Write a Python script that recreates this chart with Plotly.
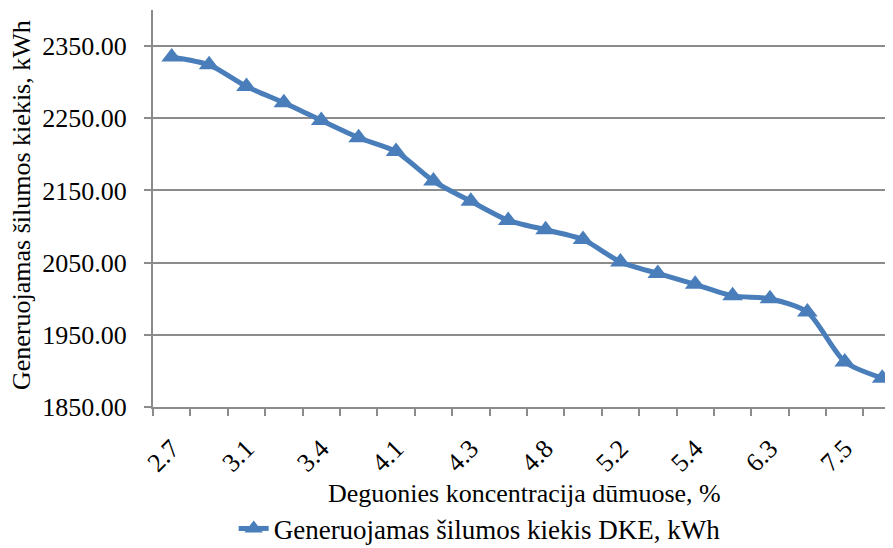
import plotly.graph_objects as go

# oxygen concentration categories (every second label is hidden on the axis, like in the original)
categories = ["2.7", "2.9", "3.1", "3.2", "3.4", "3.8", "4.1", "4.2", "4.3", "4.5",
              "4.8", "5.0", "5.2", "5.3", "5.4", "5.8", "6.3", "6.8", "7.5", "8.0"]
heat_kwh = [2335, 2324, 2294, 2271.5, 2247, 2223, 2204, 2163, 2135, 2108.5,
            2095.5, 2082, 2051, 2035, 2020, 2004, 2000, 1981.5, 1912.5, 1890]
y_ticks = [1850, 1950, 2050, 2150, 2250, 2350]

FONT = "Liberation Serif, Times New Roman, serif"
BLUE = "#4A7EBB"
GRID = "#8C8C8C"

idx = list(range(len(categories)))
shown = idx[::2]

fig = go.Figure(
    data=go.Scatter(
        x=idx,
        y=heat_kwh,
        mode="lines+markers",
        name="Generuojamas šilumos kiekis DKE, kWh",
        line=dict(color=BLUE, width=5, shape="spline", smoothing=0.7),
        marker=dict(symbol="triangle-up", size=18, color=BLUE),
    )
)

# page body has an 8px margin, so the figure is a bit smaller than the window
fig.update_layout(
    width=885,
    height=540,
    margin=dict(l=145, r=0, t=2, b=141, autoexpand=False),
    plot_bgcolor="white",
    paper_bgcolor="white",
    font=dict(family=FONT, size=26, color="black"),
    showlegend=True,
    legend=dict(
        orientation="h",
        x=0.109, xanchor="left",
        y=-0.307, yanchor="middle",
        font=dict(family=FONT, size=27),
    ),
    annotations=[
        dict(text="Deguonies koncentracija dūmuose, %", xref="paper", yref="paper",
             x=0.502, y=-0.217, xanchor="center", yanchor="middle",
             showarrow=False, font=dict(family=FONT, size=26)),
        dict(text="Generuojamas šilumos kiekis, kWh", xref="paper", yref="paper",
             x=-0.177, y=0.509, xanchor="center", yanchor="middle", textangle=-90,
             showarrow=False, font=dict(family=FONT, size=26)),
    ],
)

fig.update_xaxes(
    range=[-0.5, 19.29],
    automargin=False,
    tickmode="array",
    tickvals=shown,
    ticktext=[categories[i] for i in shown],
    tickangle=-45,
    ticks="",
    ticklabelstandoff=14,
    tickfont=dict(family=FONT, size=26),
    showgrid=False,
    zeroline=False,
    showline=True,
    linecolor=GRID,
    linewidth=2,
    minor=dict(ticks="outside", ticklen=7, tickwidth=2, tickcolor=GRID,
               tick0=-0.5, dtick=1, showgrid=False),
)

fig.update_yaxes(
    range=[1850, 2400],
    automargin=False,
    tickmode="array",
    tickvals=y_ticks,
    tickformat=".2f",
    ticks="outside",
    ticklen=7,
    tickwidth=2,
    tickcolor=GRID,
    ticklabelstandoff=12,
    tickfont=dict(family=FONT, size=26),
    showgrid=True,
    gridcolor=GRID,
    gridwidth=2,
    zeroline=False,
    showline=True,
    linecolor=GRID,
    linewidth=2,
)

fig.write_html("out.html")
